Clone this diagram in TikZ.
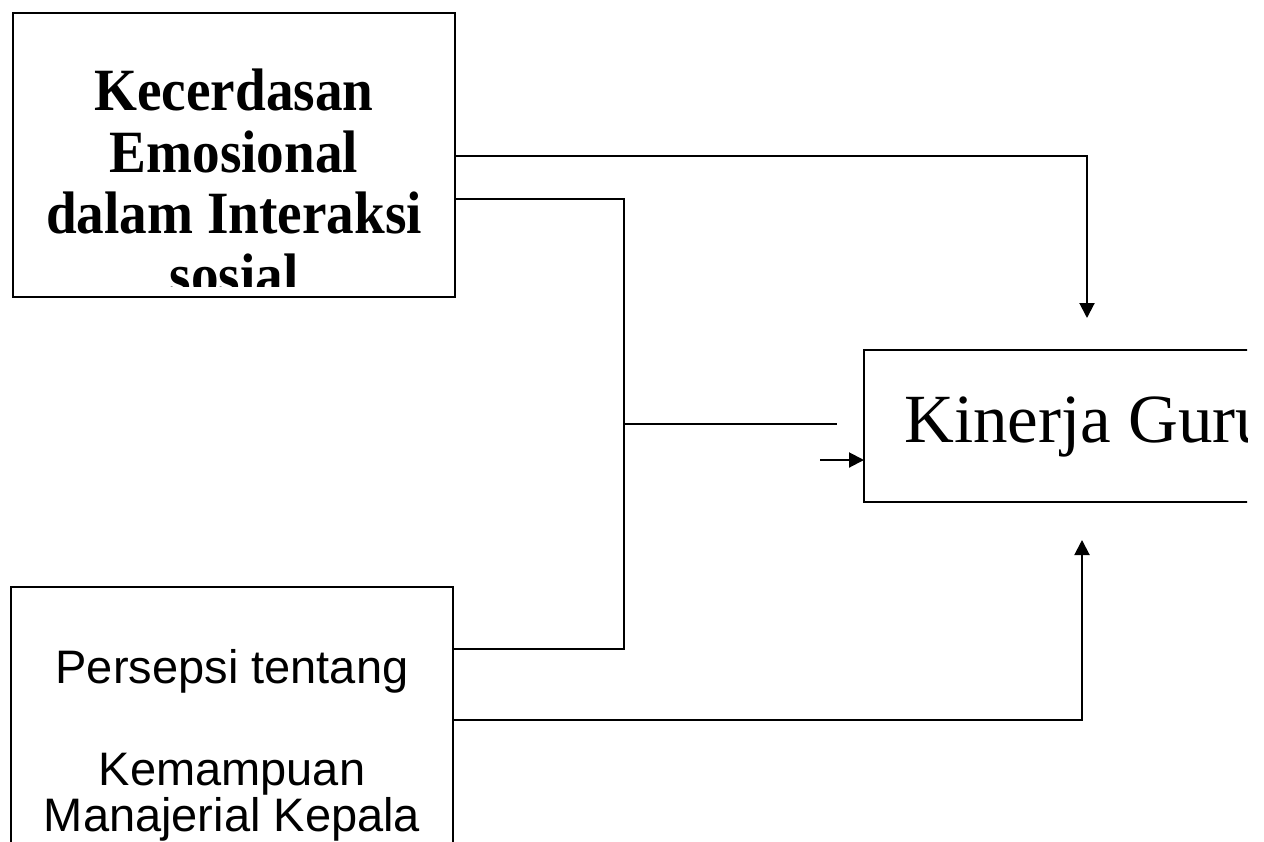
\documentclass[tikz,border=0pt]{standalone}
\usepackage{fontspec}
\setmainfont{Liberation Serif}
\newfontfamily\arialfont{Liberation Sans}
\newfontfamily\tallserif[FakeStretch=0.92]{Liberation Serif}
\usetikzlibrary{arrows.meta}
\begin{document}
\begin{tikzpicture}[x=1pt,y=-1pt,
  box/.style={draw, line width=2pt, inner sep=0pt, outer sep=0pt, rectangle},
  conn/.style={line width=2pt},
  arr/.style={conn, -{Triangle[length=15pt,width=15pt]}},
  boldtxt/.style={inner sep=0pt, anchor=base, font=\tallserif\fontsize{60}{66}\selectfont\bfseries},
  sanstxt/.style={inner sep=0pt, anchor=base, font=\arialfont\fontsize{47}{52}\selectfont},
  bigtxt/.style={inner sep=0pt, anchor=base west, font=\fontsize{69}{80}\selectfont},
  ]
\useasboundingbox (0,0) rectangle (1264,841);
\begin{scope}
\clip (0,0) rectangle (1247,841);
% boxes
\node[box, minimum width=442pt, minimum height=284pt] (ke) at (234,155) {};
\node[box, minimum width=442pt, minimum height=313pt] (pk) at (232,743.5) {};
\node[box, minimum width=446pt, minimum height=152pt] (kg) at (1087,426) {};
% top box text, clipped inside the frame
\begin{scope}
\clip (13,13) rectangle (455,286);
\node[boldtxt] (ke1) at (234,110) {Kecerdasan};
\node[boldtxt] (ke2) at (234,172) {Emosional};
\node[boldtxt] (ke3) at (234,233) {dalam Interaksi};
\node[boldtxt] (ke4) at (234,295) {sosial};
\end{scope}
% bottom box text
\node[sanstxt] (pk1) at (232,683) {Persepsi tentang};
\node[sanstxt] (pk2) at (232,785) {Kemampuan};
\node[sanstxt] (pk3) at (232,831) {Manajerial Kepala};
% right box text
\node[bigtxt] (kgt) at (904,442) {Kinerja Guru};
% connectors
\coordinate (c1) at (1087,156);
\coordinate (dt) at (1087,318);
\draw[arr] (ke.east |- c1) -- (c1) -- (dt);
\coordinate (jt) at (624,199);
\coordinate (jb) at (624,649);
\draw[conn] (ke.east |- jt) -- (jt) -- (jb) -- (pk.east |- jb);
\coordinate (jm) at (624,424);
\coordinate (me) at (837,424);
\draw[conn] (jm) -- (me);
\coordinate (sa) at (820,460);
\draw[arr] (sa) -- (kg.west |- sa);
\coordinate (c2) at (1082,720);
\coordinate (ut) at (1082,540);
\draw[arr] (pk.east |- c2) -- (c2) -- (ut);
\end{scope}
\end{tikzpicture}
\end{document}
